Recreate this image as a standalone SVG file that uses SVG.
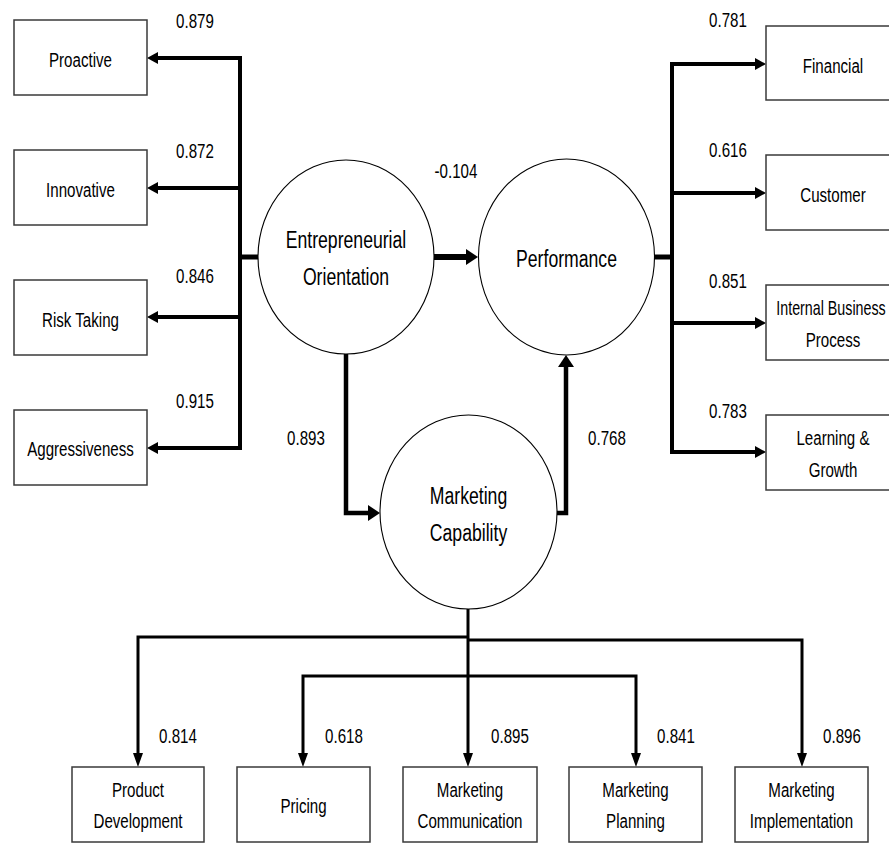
<svg xmlns="http://www.w3.org/2000/svg" width="889" height="843" viewBox="0 0 889 843">
<style>
.bx{fill:#fff;stroke:#3a3a3a;stroke-width:1.5}
.el{fill:#fff;stroke:#000;stroke-width:1.1}
.t{font-family:"Liberation Sans",Arial,sans-serif;font-size:21px;text-anchor:middle;fill:#000}
.c{font-size:24.5px}
.cn{fill:none;stroke:#000;stroke-linejoin:miter}
.w4{stroke-width:4}
.w3{stroke-width:3}
</style>
<defs>
<marker id="ah" viewBox="0 0 11 12" refX="0" refY="6" markerWidth="11" markerHeight="12" markerUnits="userSpaceOnUse" orient="auto"><path d="M0,0 L11,6 L0,12 z" fill="#000"/></marker>
<marker id="big" viewBox="0 0 12 16" refX="0" refY="8" markerWidth="12" markerHeight="16" markerUnits="userSpaceOnUse" orient="auto"><path d="M0,0 L12,8 L0,16 z" fill="#000"/></marker>
<marker id="dn" viewBox="0 0 14 10" refX="0" refY="5" markerWidth="14" markerHeight="10" markerUnits="userSpaceOnUse" orient="auto"><path d="M0,0 L14,5 L0,10 z" fill="#000"/></marker>
</defs>
<rect width="889" height="843" fill="#fff"/>

<g id="connectors">
<path class="cn w4" d="M240,58 V448" stroke-linecap="square"/>
<path class="cn w4" d="M240,58 H158" marker-end="url(#ah)"/>
<path class="cn w4" d="M240,188 H158" marker-end="url(#ah)"/>
<path class="cn w4" d="M240,317 H158" marker-end="url(#ah)"/>
<path class="cn w4" d="M240,448 H158" marker-end="url(#ah)"/>
<path class="cn" stroke-width="5" d="M240,257 H259"/>
<path class="cn w4" d="M672,64 V452" stroke-linecap="square"/>
<path class="cn w4" d="M672,64 H755" marker-end="url(#ah)"/>
<path class="cn w4" d="M672,193 H755" marker-end="url(#ah)"/>
<path class="cn w4" d="M672,323 H755" marker-end="url(#ah)"/>
<path class="cn w4" d="M672,452 H755" marker-end="url(#ah)"/>
<path class="cn" stroke-width="5" d="M654,257 H672"/>
<path class="cn" stroke-width="6" d="M434,257 H466" marker-end="url(#big)"/>
<path class="cn" stroke-width="4.5" d="M346,354 V513 H368" marker-end="url(#big)"/>
<path class="cn" stroke-width="4.5" d="M557,513 H566 V367" marker-end="url(#big)"/>
<path class="cn w3" d="M468,609 V753" marker-end="url(#dn)"/>
<path class="cn w3" d="M468,637 H138 V753" marker-end="url(#dn)"/>
<path class="cn w3" d="M468,640 H802 V753" marker-end="url(#dn)"/>
<path class="cn w3" d="M468,676 H303 V753" marker-end="url(#dn)"/>
<path class="cn w3" d="M468,676 H636 V753" marker-end="url(#dn)"/>
</g>

<g id="labels">
<text class="t" transform="translate(195,28) scale(0.72,1)">0.879</text>
<text class="t" transform="translate(195,158) scale(0.72,1)">0.872</text>
<text class="t" transform="translate(195,283) scale(0.72,1)">0.846</text>
<text class="t" transform="translate(195,408) scale(0.72,1)">0.915</text>
<text class="t" transform="translate(456,178) scale(0.72,1)">-0.104</text>
<text class="t" transform="translate(306,445) scale(0.72,1)">0.893</text>
<text class="t" transform="translate(607,445) scale(0.72,1)">0.768</text>
<text class="t" transform="translate(728,27) scale(0.72,1)">0.781</text>
<text class="t" transform="translate(728,157) scale(0.72,1)">0.616</text>
<text class="t" transform="translate(728,288) scale(0.72,1)">0.851</text>
<text class="t" transform="translate(728,418) scale(0.72,1)">0.783</text>
<text class="t" transform="translate(178,743) scale(0.72,1)">0.814</text>
<text class="t" transform="translate(344,743) scale(0.72,1)">0.618</text>
<text class="t" transform="translate(510,743) scale(0.72,1)">0.895</text>
<text class="t" transform="translate(676,743) scale(0.72,1)">0.841</text>
<text class="t" transform="translate(842,743) scale(0.72,1)">0.896</text>
</g>

<g id="eo"><ellipse class="el" cx="346" cy="257" rx="88" ry="97"/>
<text class="t c" transform="translate(346,248) scale(0.72,1)">Entrepreneurial</text>
<text class="t c" transform="translate(346,285) scale(0.72,1)">Orientation</text></g>
<g id="perf"><ellipse class="el" cx="566.5" cy="257" rx="88" ry="98"/>
<text class="t c" transform="translate(566.5,267) scale(0.72,1)">Performance</text></g>
<g id="mc"><ellipse class="el" cx="468.5" cy="512" rx="88.5" ry="97"/>
<text class="t c" transform="translate(468.5,504) scale(0.72,1)">Marketing</text>
<text class="t c" transform="translate(468.5,541) scale(0.72,1)">Capability</text></g>

<g id="proactive"><rect class="bx" x="14" y="20" width="133" height="75"/>
<text class="t" transform="translate(80.5,66.5) scale(0.72,1)">Proactive</text></g>
<g id="innovative"><rect class="bx" x="14" y="150" width="133" height="75"/>
<text class="t" transform="translate(80.5,197) scale(0.72,1)">Innovative</text></g>
<g id="risk"><rect class="bx" x="14" y="280" width="133" height="75"/>
<text class="t" transform="translate(80.5,326.5) scale(0.72,1)">Risk Taking</text></g>
<g id="aggr"><rect class="bx" x="14" y="410" width="133" height="75"/>
<text class="t" transform="translate(80.5,456) scale(0.72,1)">Aggressiveness</text></g>

<g id="financial"><rect class="bx" x="766" y="26" width="133" height="74"/>
<text class="t" transform="translate(833,73) scale(0.72,1)">Financial</text></g>
<g id="customer"><rect class="bx" x="766" y="155" width="133" height="75"/>
<text class="t" transform="translate(833,202) scale(0.72,1)">Customer</text></g>
<g id="ibp"><rect class="bx" x="766" y="285" width="133" height="75"/>
<text class="t" transform="translate(831,315) scale(0.68,1)">Internal Business</text>
<text class="t" transform="translate(833,347) scale(0.72,1)">Process</text></g>
<g id="lg"><rect class="bx" x="766" y="415" width="133" height="75"/>
<text class="t" transform="translate(833,445) scale(0.72,1)">Learning &amp;</text>
<text class="t" transform="translate(833,477) scale(0.72,1)">Growth</text></g>

<g id="pd"><rect class="bx" x="72" y="767" width="132" height="75"/>
<text class="t" transform="translate(138,797) scale(0.72,1)">Product</text>
<text class="t" transform="translate(138,828) scale(0.72,1)">Development</text></g>
<g id="pricing"><rect class="bx" x="237" y="767" width="133" height="75"/>
<text class="t" transform="translate(303.5,813) scale(0.72,1)">Pricing</text></g>
<g id="mcom"><rect class="bx" x="403" y="767" width="134" height="75"/>
<text class="t" transform="translate(470,797) scale(0.72,1)">Marketing</text>
<text class="t" transform="translate(470,828) scale(0.72,1)">Communication</text></g>
<g id="mplan"><rect class="bx" x="569" y="767" width="133" height="75"/>
<text class="t" transform="translate(635.5,797) scale(0.72,1)">Marketing</text>
<text class="t" transform="translate(635.5,828) scale(0.72,1)">Planning</text></g>
<g id="mimp"><rect class="bx" x="735" y="767" width="133" height="75"/>
<text class="t" transform="translate(801.5,797) scale(0.72,1)">Marketing</text>
<text class="t" transform="translate(801.5,828) scale(0.72,1)">Implementation</text></g>
</svg>
